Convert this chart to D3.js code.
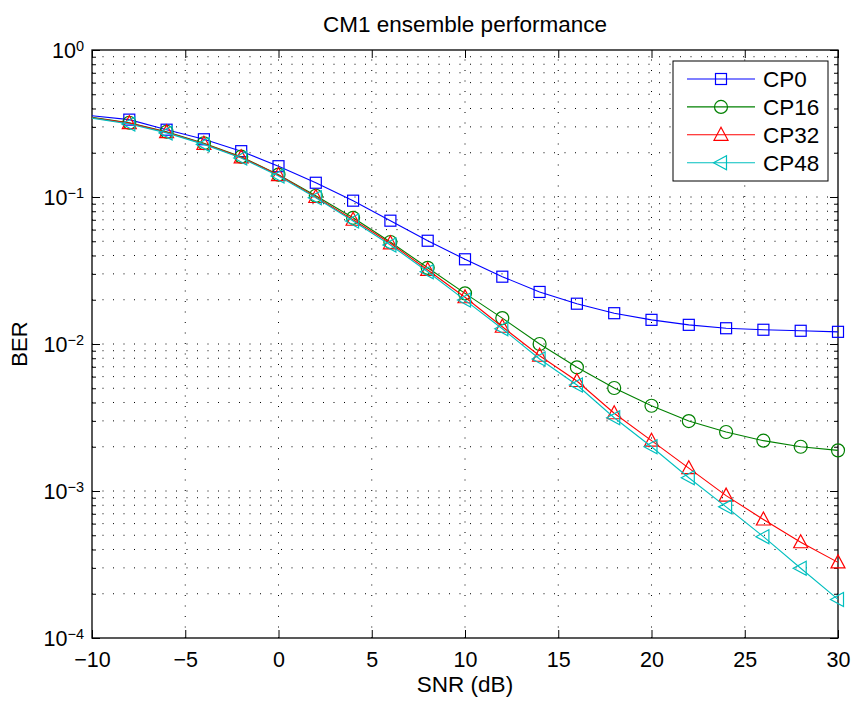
<!DOCTYPE html>
<html>
<head>
<meta charset="utf-8">
<script src="https://cdn.jsdelivr.net/npm/d3@7"></script>
<style>
  body { margin: 0; background: #fff; }
  svg { display: block; font-family: "Liberation Sans", Arial, sans-serif; }
</style>
</head>
<body>
<svg id="chart"></svg>
<script>
// SNR points (dB); markers start at -8
const snr = [-10, -8, -6, -4, -2, 0, 2, 4, 6, 8, 10, 12, 14, 16, 18, 20, 22, 24, 26, 28, 30];

const cp0  = [0.357, 0.336, 0.287, 0.247, 0.205, 0.162, 0.125, 0.0944, 0.069, 0.0504, 0.0377, 0.0287, 0.0226, 0.0188, 0.0162, 0.0146, 0.0135, 0.0128, 0.0125, 0.0123, 0.0121];
const cp16 = [0.348, 0.320, 0.278, 0.232, 0.188, 0.142, 0.102, 0.0722, 0.0494, 0.0330, 0.0221, 0.0150, 0.0100, 0.00694, 0.00502, 0.0038, 0.00299, 0.00252, 0.0022, 0.0020, 0.00189];
const cp32 = [0.346, 0.318, 0.276, 0.230, 0.186, 0.141, 0.100, 0.0700, 0.0484, 0.0319, 0.0208, 0.0131, 0.00832, 0.0056, 0.00338, 0.0022, 0.00143, 0.00093, 0.00064, 0.000448, 0.000327];
const cp48 = [0.344, 0.314, 0.273, 0.228, 0.184, 0.139, 0.0988, 0.0687, 0.0472, 0.0310, 0.0199, 0.0127, 0.0079, 0.00526, 0.00315, 0.0020, 0.00123, 0.00078, 0.000489, 0.000298, 0.000183];

const seriesNames = ["CP0", "CP16", "CP32", "CP48"];
const seriesColors = ["#0000ff", "#008000", "#ff0000", "#00bfbf"];
const seriesMarkers = ["square", "circle", "triangleUp", "triangleLeft"];
const seriesValues = [cp0, cp16, cp32, cp48];

const xTicks = [-10, -5, 0, 5, 10, 15, 20, 25, 30];
const yDecades = [-4, -3, -2, -1, 0];

const W = 857, H = 709;
const m = { left: 92, right: 838, top: 50, bottom: 638 };

const svg = d3.select("#chart").attr("width", W).attr("height", H);

const x = d3.scaleLinear().domain([-10, 30]).range([m.left, m.right]);
const y = d3.scaleLog().domain([1e-4, 1]).range([m.bottom, m.top]);

// y minor values (2..9 x 10^k)
let yMinor = [];
yDecades.slice(0, -1).forEach(k => {
  for (let i = 2; i <= 9; i++) yMinor.push(i * Math.pow(10, k));
});
const yMajor = yDecades.map(k => Math.pow(10, k));

// dotted grid
const grid = svg.append("g");
grid.selectAll("line.gx")
  .data(xTicks.slice(1, -1)).enter().append("line")
  .attr("x1", d => x(d)).attr("x2", d => x(d))
  .attr("y1", m.bottom).attr("y2", m.top)
  .attr("stroke", "#000").attr("stroke-width", 1)
  .attr("stroke-dasharray", "1,9.5");
grid.selectAll("line.gy")
  .data(yMinor.concat(yMajor.slice(1, -1))).enter().append("line")
  .attr("x1", m.left).attr("x2", m.right)
  .attr("y1", d => y(d)).attr("y2", d => y(d))
  .attr("stroke", "#000").attr("stroke-width", 1)
  .attr("stroke-dasharray", "1,9.5");

// axes box
svg.append("rect")
  .attr("x", m.left).attr("y", m.top)
  .attr("width", m.right - m.left).attr("height", m.bottom - m.top)
  .attr("fill", "none").attr("stroke", "#000").attr("stroke-width", 1.3);

// x axis (bottom with labels, top ticks only)
const xAxis = svg.append("g")
  .attr("transform", `translate(0,${m.bottom})`)
  .call(d3.axisBottom(x).tickValues(xTicks).tickSize(-8).tickPadding(13.5).tickFormat(d3.format("d")));
xAxis.select(".domain").remove();
xAxis.selectAll("text").attr("font-size", 21.5).attr("fill", "#000")
  .attr("font-family", "Liberation Sans, Arial, sans-serif");
xAxis.selectAll("line").attr("stroke", "#000");

const xTop = svg.append("g")
  .attr("transform", `translate(0,${m.top})`)
  .call(d3.axisTop(x).tickValues(xTicks).tickSize(-8).tickFormat(""));
xTop.select(".domain").remove();
xTop.selectAll("line").attr("stroke", "#000");

// y axis ticks (left and right, major + minor)
[[d3.axisLeft, m.left], [d3.axisRight, m.right]].forEach(([ax, pos]) => {
  const gMaj = svg.append("g").attr("transform", `translate(${pos},0)`)
    .call(ax(y).tickValues(yMajor).tickSize(-8).tickFormat(""));
  gMaj.select(".domain").remove();
  gMaj.selectAll("line").attr("stroke", "#000");
  const gMin = svg.append("g").attr("transform", `translate(${pos},0)`)
    .call(ax(y).tickValues(yMinor).tickSize(-4).tickFormat(""));
  gMin.select(".domain").remove();
  gMin.selectAll("line").attr("stroke", "#000");
});

// y tick labels 10^k
const yLab = svg.append("g");
yDecades.forEach(k => {
  const t = yLab.append("text")
    .attr("x", m.left - 8).attr("y", y(Math.pow(10, k)) + 7.5)
    .attr("text-anchor", "end").attr("font-size", 21.5).attr("fill", "#000");
  t.append("tspan").text("10");
  t.append("tspan").attr("dy", -6.5).attr("font-size", 14.5)
    .text(k === 0 ? "0" : "\u2212" + Math.abs(k));
});

// titles
svg.append("text").attr("x", (m.left + m.right) / 2).attr("y", 32)
  .attr("text-anchor", "middle").attr("font-size", 22.5).text("CM1 ensemble performance");
svg.append("text").attr("x", (m.left + m.right) / 2).attr("y", 692)
  .attr("text-anchor", "middle").attr("font-size", 22.5).text("SNR (dB)");
svg.append("text")
  .attr("transform", `translate(27,${(m.top + m.bottom) / 2}) rotate(-90)`)
  .attr("text-anchor", "middle").attr("font-size", 22).text("BER");

// marker drawing
function drawMarker(g, type, color) {
  if (type === "square") {
    g.append("rect").attr("x", -5.5).attr("y", -5.5).attr("width", 11).attr("height", 11)
      .attr("fill", "none").attr("stroke", color).attr("stroke-width", 1.2);
  } else if (type === "circle") {
    g.append("circle").attr("r", 6.5)
      .attr("fill", "none").attr("stroke", color).attr("stroke-width", 1.2);
  } else if (type === "triangleUp") {
    g.append("path").attr("d", "M0,-7.5L7,5.5L-7,5.5Z")
      .attr("fill", "none").attr("stroke", color).attr("stroke-width", 1.2);
  } else {
    g.append("path").attr("d", "M-7.5,0L5.5,-7L5.5,7Z")
      .attr("fill", "none").attr("stroke", color).attr("stroke-width", 1.2);
  }
}

const line = d3.line().x(d => x(d[0])).y(d => y(d[1]));

seriesValues.forEach((vals, i) => {
  const pts = snr.map((s, j) => [s, vals[j]]);
  const g = svg.append("g");
  g.append("path").datum(pts).attr("d", line)
    .attr("fill", "none").attr("stroke", seriesColors[i]).attr("stroke-width", 1.1);
  g.selectAll("g.mk").data(pts.filter(p => p[0] > -10)).enter().append("g")
    .attr("transform", d => `translate(${x(d[0])},${y(d[1])})`)
    .each(function () { drawMarker(d3.select(this), seriesMarkers[i], seriesColors[i]); });
});

// legend
const lg = svg.append("g").attr("transform", "translate(673,61)");
lg.append("rect").attr("width", 155).attr("height", 120)
  .attr("fill", "#fff").attr("stroke", "#000").attr("stroke-width", 1);
seriesNames.forEach((name, i) => {
  const ry = 18 + i * 27.9;
  lg.append("line").attr("x1", 14).attr("x2", 82).attr("y1", ry).attr("y2", ry)
    .attr("stroke", seriesColors[i]).attr("stroke-width", 1.1);
  drawMarker(lg.append("g").attr("transform", `translate(48,${ry})`), seriesMarkers[i], seriesColors[i]);
  lg.append("text").attr("x", 90).attr("y", ry + 8)
    .attr("font-size", 22.5).attr("fill", "#000").text(name);
});
</script>
</body>
</html>
